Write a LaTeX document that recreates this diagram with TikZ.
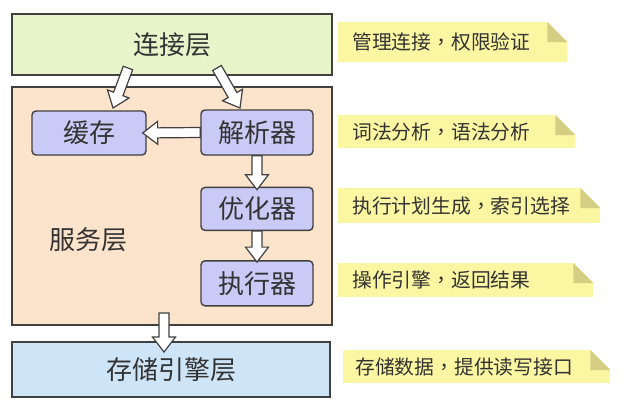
\documentclass[tikz,border=0pt]{standalone}
\usepackage{fontspec}
\setmainfont{Noto Sans CJK SC}
\newfontfamily\tcfont{Noto Sans CJK TC}
\usetikzlibrary{positioning,calc}

\definecolor{connfill}{HTML}{E8F5CB}
\definecolor{servicefill}{HTML}{FCE4CC}
\definecolor{storagefill}{HTML}{CEE5F8}
\definecolor{partfill}{HTML}{CACAF7}
\definecolor{notefill}{HTML}{FBF6A2}
\definecolor{foldfill}{HTML}{D4CE82}
\definecolor{inkgray}{HTML}{333333}
\definecolor{edgegray}{HTML}{404040}

\newcommand{\midcomma}{{\tcfont ，}}
\newcommand{\hollowarrow}[2]{%
  \coordinate (neck) at ($(#2)!15pt!(#1)$);
  \draw[hollow] ($(#1)!5pt!90:(#2)$) -- ($(neck)!5pt!90:(#2)$) -- ($(neck)!11.5pt!90:(#2)$) -- (#2)
    -- ($(neck)!11.5pt!-90:(#2)$) -- ($(neck)!5pt!-90:(#2)$) -- ($(#1)!5pt!-90:(#2)$) -- cycle;}

\begin{document}
\begin{tikzpicture}[x=1pt,y=-1pt,node distance=30pt]
    \tikzstyle{layer}=[draw=edgegray,line width=1.4pt,inner sep=0pt,text=inkgray,font=\fontsize{26}{30}\selectfont]
    \tikzstyle{part}=[layer,rounded corners=4pt,fill=partfill,minimum width=112pt,minimum height=45pt]
    \tikzstyle{note}=[anchor=north west,fill=notefill,inner xsep=14pt,inner ysep=0pt,align=left,text=inkgray,font=\fontsize{19.8}{22}\selectfont]
    \tikzstyle{hollow}=[draw=edgegray,line width=1.2pt,fill=white,line join=miter]

    \useasboundingbox (0,0) rectangle (629,410);

    \node[layer,fill=connfill,minimum width=320pt,minimum height=61pt]    (conn)    at (172,44.5)  {连接层};
    \node[layer,fill=servicefill,minimum width=320pt,minimum height=238pt] (service) at (172,206)   {};
    \node[layer,draw=none]                                                 (servicelbl) at (88,240) {服务层};
    \node[layer,fill=storagefill,minimum width=318pt,minimum height=55pt] (storage) at (171,369.5) {存储引擎层};

    \node[part,minimum width=114pt,minimum height=44pt] (cache) at (89,133)   {缓存};
    \node[part]                                          (parser) at (257,132.5) {解析器};
    \node[part,minimum height=43pt] (optimizer) [below=31pt of parser]    {优化器};
    \node[part]                     (executor)  [below=29pt of optimizer] {执行器};

    \node[note,text width=201pt,minimum height=40pt] (n1) at (338,22)  {管理连接\midcomma 权限验证};
    \node[note,text width=209pt,minimum height=33pt] (n2) at (338,115) {词法分析\midcomma 语法分析};
    \node[note,text width=234pt,minimum height=35pt] (n3) at (338,188) {执行计划生成\midcomma 索引选择};
    \node[note,text width=227pt,minimum height=34pt] (n4) at (338,263) {操作引擎\midcomma 返回结果};
    \node[note,inner xsep=12pt,text width=243pt,minimum height=33pt] (n5) at (343,350) {存储数据\midcomma 提供读写接口};

    \foreach \n in {n1,n2,n3,n4,n5} {
        \fill[white] ($(\n.north east)+(-20.5,-0.5)$) -- ($(\n.north east)+(0.5,-0.5)$) -- ($(\n.north east)+(0.5,20.5)$) -- cycle;
        \fill[foldfill] ($(\n.north east)+(-20,0)$) -- ($(\n.north east)+(-20,20)$) -- ($(\n.north east)+(0,20)$) -- cycle;
    }

    \coordinate (ca1) at (128,68);
    \coordinate (ca2) at (113,108);
    \coordinate (pa1) at (217,68);
    \coordinate (pa2) at (240,108);
    \coordinate (cachetip) at ([xshift=-4pt]cache.east);
    \coordinate (opttop) at ([yshift=-3pt]optimizer.north);
    \coordinate (exetop) at ([yshift=-2pt]executor.north);
    \coordinate (sv1) at (164,313);
    \coordinate (sv2) at (164,352);

    \hollowarrow{ca1}{ca2}
    \hollowarrow{pa1}{pa2}
    \hollowarrow{parser.west}{cachetip}
    \hollowarrow{parser.south}{opttop}
    \hollowarrow{optimizer.south}{exetop}
    \hollowarrow{sv1}{sv2}
\end{tikzpicture}
\end{document}
